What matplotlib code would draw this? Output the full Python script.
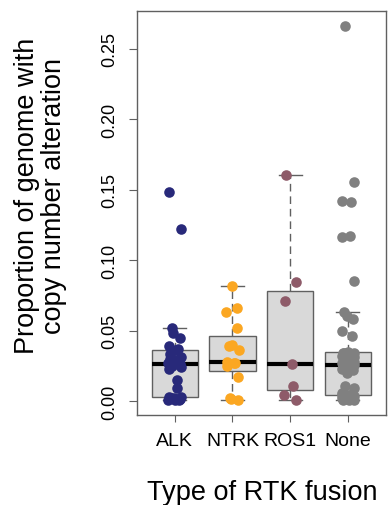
import numpy as np
import matplotlib
matplotlib.use("Agg")
import matplotlib.pyplot as plt

plt.rcParams['font.family'] = ['Liberation Sans', 'DejaVu Sans']

groups = ["ALK", "NTRK", "ROS1", "None"]
colors = ["#28297a", "#fba722", "#8e5b69", "#808080"]

alk = [0.0005, 0.001, 0.001, 0.0015, 0.002, 0.002, 0.0025, 0.0026,
       0.009, 0.015,
       0.023, 0.024, 0.025, 0.026, 0.0265, 0.027, 0.028, 0.029, 0.030,
       0.031, 0.033, 0.036, 0.037, 0.039,
       0.045, 0.048, 0.052, 0.122, 0.148]
ntrk = [0.001, 0.0015, 0.002, 0.017, 0.025, 0.027, 0.027, 0.0277,
        0.036, 0.039, 0.040, 0.052, 0.063, 0.066, 0.0813]
ros1 = [0.001, 0.004, 0.011, 0.0265, 0.071, 0.0846, 0.1605]
none = [0.0005, 0.001, 0.001, 0.0012, 0.0015, 0.002, 0.002, 0.0025, 0.003,
        0.0035, 0.0038, 0.004, 0.0043,
        0.0045, 0.006, 0.009, 0.011,
        0.020, 0.022, 0.023, 0.024, 0.025, 0.025, 0.0255, 0.0258, 0.0258,
        0.026, 0.027, 0.028, 0.029, 0.030, 0.031, 0.032, 0.033, 0.0335,
        0.034, 0.034, 0.034, 0.035,
        0.046, 0.050, 0.058, 0.060, 0.063, 0.085, 0.116, 0.117, 0.141,
        0.142, 0.155, 0.266]
data = [alk, ntrk, ros1, none]

fig = plt.figure(figsize=(3.89, 5.06), dpi=100)
ax = fig.add_axes([0.3514, 0.1779, 0.6409, 0.7984])

edge = "#606060"
ax.boxplot(data, positions=[1, 2, 3, 4], widths=0.8, capwidths=0.4,
           patch_artist=True, showfliers=False,
           boxprops=dict(facecolor="#d9d9d9", edgecolor=edge, linewidth=1),
           medianprops=dict(color="black", linewidth=3, solid_capstyle="butt"),
           whiskerprops=dict(color=edge, linewidth=1, linestyle=(0, (5.5, 3.5))),
           capprops=dict(color=edge, linewidth=1))

# deterministic horizontal jitter
for i, (vals, c) in enumerate(zip(data, colors)):
    n = len(vals)
    jit = 0.11 * np.sin(np.arange(n) * 2.39996 + i)
    ax.scatter(np.full(n, i + 1) + jit, vals, s=58, color=c, linewidths=0, zorder=3)

ax.set_xlim(0.34, 4.66)
ax.set_ylim(-0.0099, 0.2766)
ax.set_xticks([1, 2, 3, 4])
ax.set_xticklabels(groups, fontsize=14)
ax.set_yticks([0, 0.05, 0.10, 0.15, 0.20, 0.25])
ax.set_yticklabels(["0.00", "0.05", "0.10", "0.15", "0.20", "0.25"],
                   fontsize=13, rotation=90, va="center")
ax.tick_params(axis="x", length=5, width=0.8, color=edge, pad=7)
ax.tick_params(axis="y", length=6, width=0.8, color=edge, pad=7)
for sp in ax.spines.values():
    sp.set_color(edge)
    sp.set_linewidth(1)

fig.text(0.674, 0.0119, "Type of RTK fusion", fontsize=19.5,
         ha="center", va="baseline")
fig.text(0.103, 0.6126, "Proportion of genome with\ncopy number alteration",
         fontsize=19.5, rotation=90, ha="center", va="center",
         multialignment="center", linespacing=1.05)

fig.savefig("out.png", dpi=100)
